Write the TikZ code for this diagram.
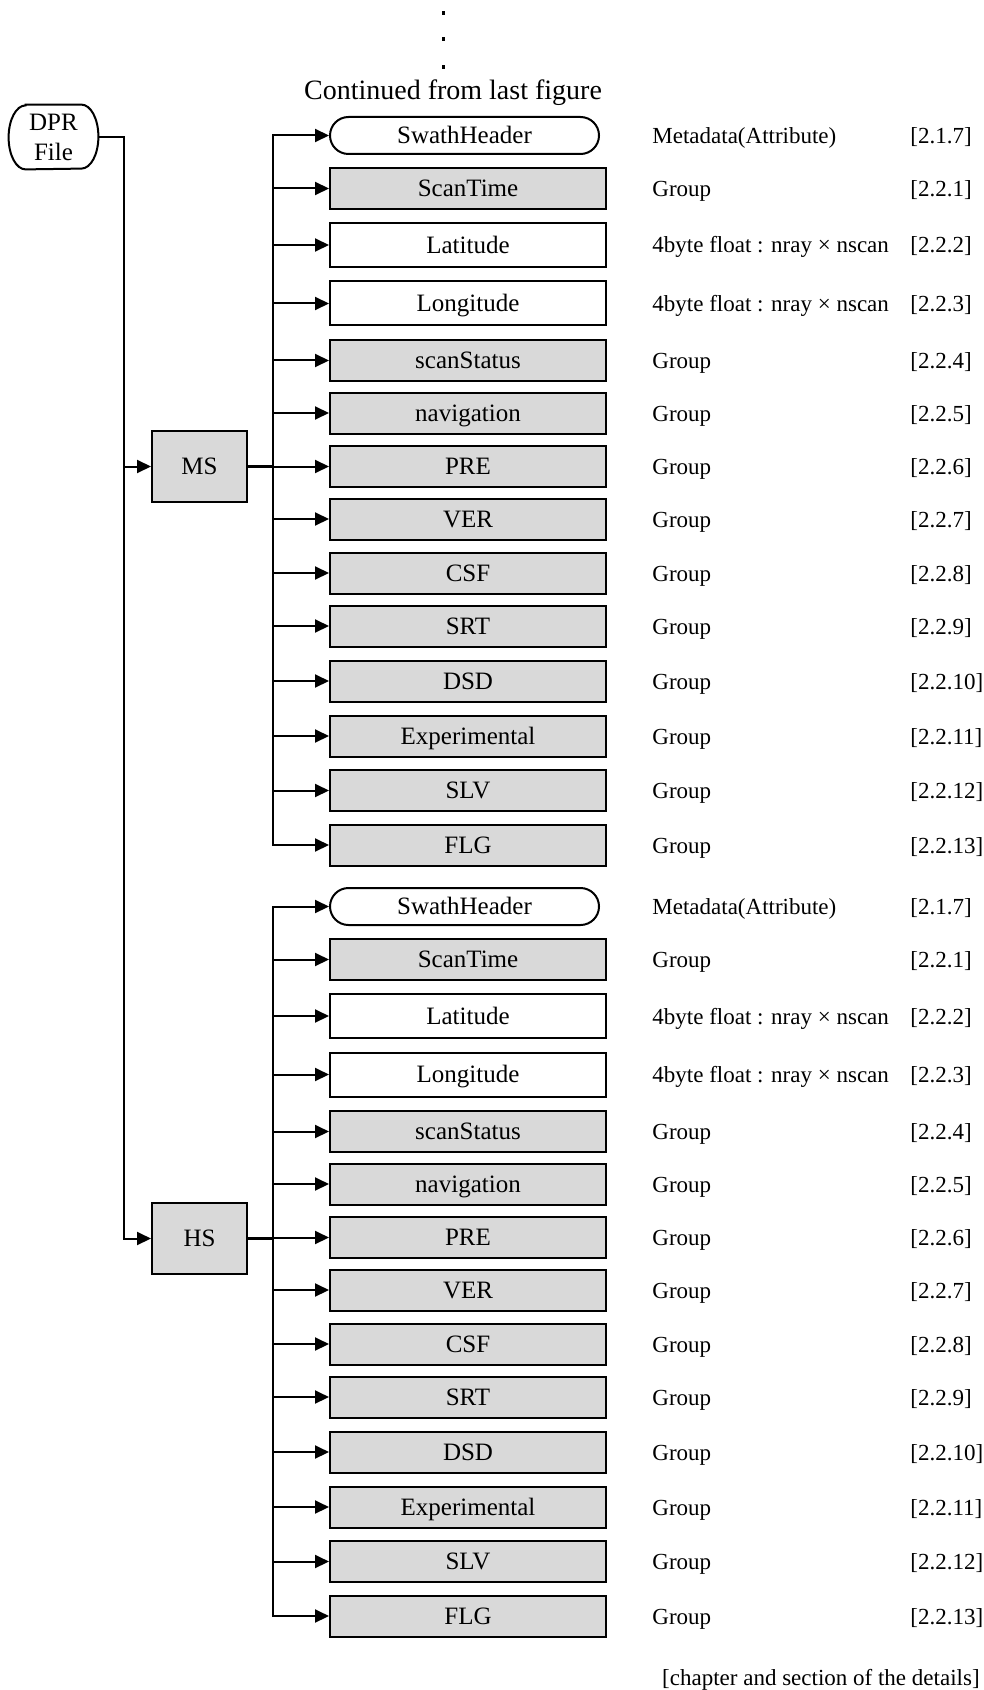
\documentclass[tikz,border=0pt]{standalone}
\usepackage{fontspec}
\setmainfont{Liberation Serif}
\usetikzlibrary{arrows.meta}
\definecolor{boxgray}{RGB}{217,217,217}
\begin{document}
\begin{tikzpicture}[x=0.5pt,y=-0.5pt,
  lbl/.style={font=\fontsize{12.5pt}{15pt}\selectfont},
  grpbox/.style={draw, line width=1pt, fill=boxgray, minimum width=138pt, minimum height=20.5pt, inner sep=0pt, text height=8.4pt, text depth=0pt, anchor=west, lbl},
  whtbox/.style={grpbox, fill=white, minimum height=22pt},
  hdrbox/.style={grpbox, fill=white, minimum width=134.5pt, minimum height=18.5pt, rounded corners=9.25pt},
  parbox/.style={draw, line width=1pt, fill=boxgray, minimum width=47.5pt, minimum height=35.5pt, inner sep=0pt, text height=8.4pt, text depth=0pt, lbl},
  desc/.style={anchor=base west, inner sep=0pt, font=\fontsize{11.5pt}{14pt}\selectfont},
  arr/.style={line width=1pt, -{Triangle[length=7pt,width=6.5pt]}},
  ln/.style={line width=1pt},
]
\useasboundingbox (0,0) rectangle (984,1690);

% dots and heading
\fill (441.5,11.5) rectangle (445,15);
\fill (441.5,37.5) rectangle (445,41);
\fill (441.5,65.5) rectangle (445,69);
\node[inner sep=0pt, font=\fontsize{14pt}{17pt}\selectfont] (cont) at (453,93) {Continued from last figure};

% DPR File
\node[inner sep=0pt, minimum width=44.5pt, minimum height=32pt, align=center, lbl] (dpr) at (53.5,137) {DPR\\File};
\draw[ln] ([xshift=8.5pt]dpr.north west) -- ([xshift=-8.5pt]dpr.north east)
  arc[start angle=90, end angle=-90, x radius=8.5pt, y radius=16pt]
  -- ([xshift=8.5pt]dpr.south west)
  arc[start angle=270, end angle=90, x radius=8.5pt, y radius=16pt] -- cycle;

% MS and HS
\node[parbox] (ms) at (199.5,466.5) {MS};
\node[parbox] (hs) at (199.5,1238.5) {HS};
\coordinate (bus) at (124,137);
\draw[arr] (dpr.east) -- (bus) |- (ms.west);
\draw[arr] (bus) |- (hs.west);
\coordinate (msbus) at (273,466.5);
\coordinate (hsbus) at (273,1238.5);
\draw[line width=1.5pt] (ms.east) -- (msbus);
\draw[line width=1.5pt] (hs.east) -- (hsbus);

\foreach \g/\off in {ms/0, hs/771} {
  \foreach \lab/\yy/\sty/\dsc/\secn [count=\i] in {
    SwathHeader/135.5/hdrbox/{Metadata(Attribute)}/{[2.1.7]},
    ScanTime/188.5/grpbox/Group/{[2.2.1]},
    Latitude/245/whtbox/{4byte float : nray × nscan}/{[2.2.2]},
    Longitude/303.5/whtbox/{4byte float : nray × nscan}/{[2.2.3]},
    scanStatus/360.5/grpbox/Group/{[2.2.4]},
    navigation/413/grpbox/Group/{[2.2.5]},
    PRE/466.5/grpbox/Group/{[2.2.6]},
    VER/519/grpbox/Group/{[2.2.7]},
    CSF/573/grpbox/Group/{[2.2.8]},
    SRT/626/grpbox/Group/{[2.2.9]},
    DSD/681/grpbox/Group/{[2.2.10]},
    Experimental/736/grpbox/Group/{[2.2.11]},
    SLV/790.5/grpbox/Group/{[2.2.12]},
    FLG/845/grpbox/Group/{[2.2.13]}} {
    \node[\sty] (\g\i) at (329,\yy+\off) {\lab};
    \node[desc] (\g d\i) at (652,\yy+\off+8) {\dsc};
    \node[desc] (\g s\i) at (910,\yy+\off+8) {\secn};
    \draw[arr] (\g bus) |- (\g\i.west);
  }
}

\node[desc, anchor=base east] (note) at (980,1685) {[chapter and section of the details]};
\end{tikzpicture}
\end{document}
